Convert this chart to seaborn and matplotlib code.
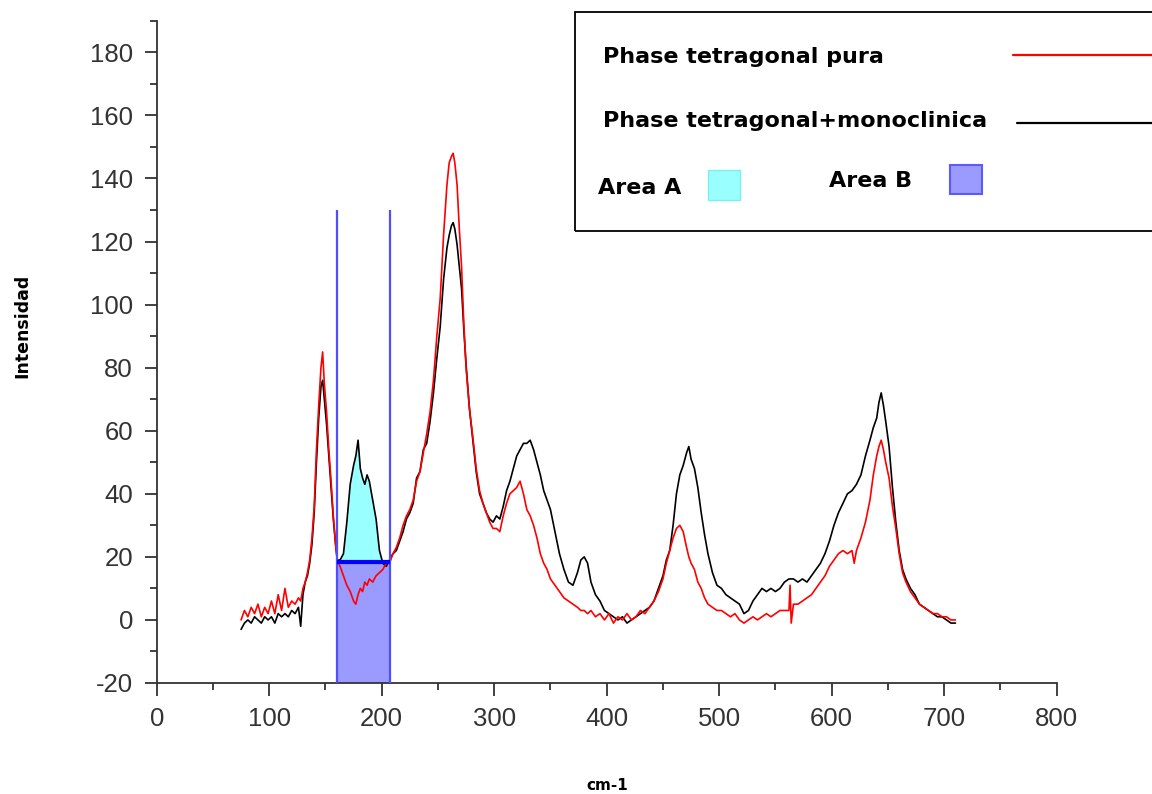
import matplotlib
matplotlib.use("Agg")
import matplotlib.pyplot as plt
import numpy as np
import pandas as pd
import seaborn as sns
from matplotlib.patches import Rectangle
from matplotlib.lines import Line2D
from matplotlib.ticker import MultipleLocator

# ---------------- data ----------------
wavenumber = [75, 78, 81, 84, 87, 90, 93, 96, 99, 102, 105, 108, 111, 114, 117, 120, 123, 126, 128,
              130, 132, 134, 136, 138, 140, 142, 144, 146, 147.5, 149, 151, 153, 155, 157, 159, 160.5,
              163, 166, 169, 172, 175, 177, 179, 181, 183, 185, 187, 189, 192, 195, 198, 201, 204, 207,
              210, 213, 216, 219, 222, 225, 228, 231, 234, 237, 240, 243, 246, 249, 252, 255, 258, 260,
              262, 263.5, 265, 267, 269, 271, 273, 275, 278, 281, 284, 287, 290, 293, 296, 299, 302,
              305, 308, 311, 314, 317, 320, 323, 326, 329, 332, 335, 338, 341, 344, 347, 350, 354, 358,
              362, 366, 370, 374, 377, 380, 383, 386, 390, 394, 398, 402, 406, 410, 414, 418, 422, 426,
              430, 434, 438, 442, 446, 450, 453, 456, 459, 462, 465, 468, 471, 473, 475, 478, 481, 484,
              487, 490, 494, 498, 502, 506, 510, 514, 518, 522, 526, 530, 534, 538, 542, 546, 550, 554,
              558, 562, 563, 564, 566, 570, 574, 578, 582, 586, 590, 594, 598, 602, 606, 610, 614, 618,
              620, 622, 626, 630, 634, 637, 640, 642, 644, 646, 648, 651, 654, 657, 660, 663, 666, 670,
              674, 678, 682, 686, 690, 694, 698, 702, 706, 710]

tetragonal_pura = [0, 3, 1, 4, 2, 5, 1, 4, 2, 6, 2, 8, 3, 10, 4, 6, 5, 7, 6,
                   10, 12, 15, 19, 26, 36, 54, 68, 80, 85, 75, 66, 54, 44, 33, 24, 19,
                   17, 14, 11, 9, 6, 5, 8, 10, 9, 12, 11, 13, 12, 14, 15, 16, 18, 18,
                   21, 23, 26, 30, 33, 35, 38, 44, 47, 53, 59, 66, 76, 90, 102, 122, 138, 145,
                   147, 148, 145, 138, 124, 112, 94, 80, 67, 58, 48, 41, 37, 34, 31, 29, 29,
                   28, 33, 37, 40, 41, 42, 44, 40, 35, 33, 30, 26, 21, 18, 16, 13, 11, 9,
                   7, 6, 5, 4, 3, 3, 2, 3, 1, 2, 0, 2, -1, 1, 0, 2, 0, 1,
                   3, 2, 4, 6, 9, 13, 18, 22, 26, 29, 30, 28, 23, 20, 18, 16, 12, 10,
                   7, 5, 4, 3, 3, 2, 1, 2, 0, -1, 0, 1, 0, 1, 2, 1, 2, 3,
                   3, 3, 11, -1, 5, 5, 6, 7, 8, 10, 12, 14, 17, 19, 21, 22, 21, 22,
                   18, 22, 26, 31, 38, 46, 52, 55, 57, 54, 50, 45, 36, 29, 21, 15, 12, 9,
                   7, 5, 4, 3, 2, 2, 1, 1, 0, 0]

tetragonal_monoclinica = [-3, -1, 0, -1, 1, 0, -1, 1, 0, 1, -1, 2, 1, 2, 1, 3, 2, 4, -2,
                          8, 12, 14, 18, 24, 34, 50, 64, 74, 76, 70, 62, 52, 42, 32, 24, 19,
                          19, 21, 31, 43, 49, 52, 57, 48, 45, 43, 46, 44, 38, 32, 22, 18, 17, 19,
                          21, 22, 25, 28, 32, 34, 37, 45, 47, 54, 56, 63, 72, 83, 93, 108, 118, 122,
                          125, 126, 124, 119, 112, 105, 92, 81, 67, 57, 47, 40, 37, 34, 32, 31, 33,
                          32, 36, 41, 44, 48, 52, 54, 56, 56, 57, 54, 50, 46, 41, 38, 35, 28, 21,
                          16, 12, 11, 15, 19, 20, 18, 12, 8, 6, 3, 2, 1, 0, 1, -1, 0, 1,
                          2, 3, 4, 6, 10, 14, 19, 22, 30, 40, 46, 49, 53, 55, 51, 48, 42, 34,
                          27, 21, 15, 11, 10, 8, 7, 6, 5, 2, 3, 6, 8, 10, 9, 10, 9, 10,
                          12, 13, 13, 13, 13, 12, 13, 12, 14, 16, 18, 21, 25, 30, 34, 37, 40, 41,
                          42, 43, 46, 52, 57, 61, 64, 69, 72, 68, 63, 55, 42, 31, 22, 16, 13, 10,
                          8, 5, 4, 3, 2, 1, 1, 0, -1, -1]

area_left = 160.5      # cm-1
area_right = 207.0     # cm-1
area_baseline = 18.5   # Intensidad
marker_top = 130.0     # top of the vertical marker lines

x_ticks = [0, 100, 200, 300, 400, 500, 600, 700, 800]
y_ticks = [-20, 0, 20, 40, 60, 80, 100, 120, 140, 160, 180]

legend_labels = ["Phase tetragonal pura", "Phase tetragonal+monoclinica", "Area A", "Area B"]

# ---------------- style ----------------
sns.set_style("ticks")
plt.rcParams["font.family"] = ["Liberation Sans", "DejaVu Sans"]
plt.rcParams["axes.unicode_minus"] = False

W, H = 1152, 794
fig = plt.figure(figsize=(W / 100, H / 100), dpi=100)
ax = fig.add_axes([156.7 / W, 1 - 683 / H, (1056.7 - 156.7) / W, (683 - 20.8) / H])

df_k = pd.DataFrame({"cm": wavenumber, "I": tetragonal_monoclinica})
df_r = pd.DataFrame({"cm": wavenumber, "I": tetragonal_pura})

# Area B (rectangle under the baseline)
ax.fill_between([area_left, area_right], [y_ticks[0]] * 2, [area_baseline] * 2,
                color="#9a9aff", lw=0, zorder=1)
# Area A (between black curve and baseline)
xa = np.array(wavenumber, dtype=float)
ya = np.array(tetragonal_monoclinica, dtype=float)
m = (xa >= area_left) & (xa <= area_right)
ax.fill_between(xa[m], ya[m], area_baseline, where=ya[m] >= area_baseline,
                interpolate=True, color="#99ffff", lw=0, zorder=1)

sns.lineplot(data=df_k, x="cm", y="I", color="black", lw=1.2, ax=ax,
             estimator=None, sort=False, zorder=3)
sns.lineplot(data=df_r, x="cm", y="I", color="#ff0000", lw=1.2, ax=ax,
             estimator=None, sort=False, zorder=4)

ax.vlines([area_left, area_right], y_ticks[0], marker_top, color="#4f4fff", lw=1.6, zorder=5)
ax.hlines(area_baseline, area_left, area_right, color="#0000ff", lw=3, zorder=6)

ax.set_xlim(0, 800)
ax.set_ylim(-20, 190)
ax.set_xticks(x_ticks)
ax.set_yticks(y_ticks)
ax.xaxis.set_minor_locator(MultipleLocator(50))
ax.yaxis.set_minor_locator(MultipleLocator(10))
ax.tick_params(which="major", length=9, width=1.3, direction="out", color="#333333",
               labelsize=18.5, labelcolor="#333333", pad=8)
ax.tick_params(which="minor", length=5, width=1.3, direction="out", color="#333333")
sns.despine(ax=ax)
for s in ("left", "bottom"):
    ax.spines[s].set_linewidth(1.3)
    ax.spines[s].set_color("#333333")
ax.set_xlabel("")
ax.set_ylabel("")

fig.text(22 / W, 1 - 326 / H, "Intensidad", rotation=90, ha="center", va="center",
         fontsize=12.5, fontweight="bold", family="DejaVu Sans", color="black")
fig.text(607 / W, 1 - 785 / H, "cm-1", ha="center", va="center",
         fontsize=11, fontweight="bold", family="DejaVu Sans", color="black")

# ---------------- legend box ----------------
fig.add_artist(Rectangle((575 / W, 1 - 231 / H), 0.6, (231 - 12) / H, transform=fig.transFigure,
                         fill=False, ec="black", lw=1.3))
tk = dict(fontsize=16, fontweight="bold", family="DejaVu Sans", va="center", ha="left",
          color="black")
fig.text(603 / W, 1 - 57 / H, legend_labels[0], **tk)
fig.text(603 / W, 1 - 121 / H, legend_labels[1], **tk)
fig.text(598 / W, 1 - 188 / H, legend_labels[2], **tk)
fig.text(829 / W, 1 - 181 / H, legend_labels[3], **tk)
fig.add_artist(Line2D([1013 / W, 1.0], [1 - 55 / H] * 2, color="#ff0000", lw=1.6,
                      transform=fig.transFigure))
fig.add_artist(Line2D([1017 / W, 1.0], [1 - 123 / H] * 2, color="black", lw=1.6,
                      transform=fig.transFigure))
fig.add_artist(Rectangle((708 / W, 1 - 200 / H), 32 / W, 30 / H, transform=fig.transFigure,
                         fc="#99ffff", ec="#77f0f0", lw=1))
fig.add_artist(Rectangle((950 / W, 1 - 194 / H), 32 / W, 29 / H, transform=fig.transFigure,
                         fc="#9a9aff", ec="#5a5aff", lw=1.5))

fig.savefig("out.png", dpi=100)
